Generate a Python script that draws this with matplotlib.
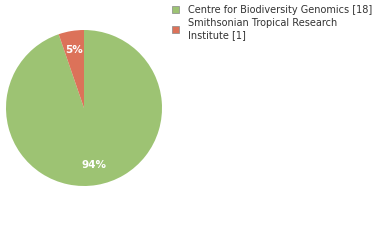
import numpy as np
import matplotlib
matplotlib.use('Agg')
import matplotlib.pyplot as plt
from matplotlib.patches import Patch

labels = ['Centre for Biodiversity Genomics [18]', 'Smithsonian Tropical Research\nInstitute [1]']
counts = [18, 1]
pct_labels = ['94%', '5%']
colors = ['#9dc373', '#dc7259']

fig = plt.figure(figsize=(3.8, 2.4), dpi=100)
ax = fig.add_axes([6 / 380, 54 / 240, 156 / 380, 156 / 240])

wedges, _ = ax.pie(counts, colors=colors, startangle=90, counterclock=False,
                   wedgeprops=dict(linewidth=0))
dists = [0.74, 0.76]
for w, txt, d in zip(wedges, pct_labels, dists):
    ang = np.deg2rad((w.theta1 + w.theta2) / 2)
    ax.text(d * np.cos(ang), d * np.sin(ang), txt, ha='center', va='center',
            color='white', fontsize=7.5, fontweight='semibold')
ax.set_xlim(-1, 1)
ax.set_ylim(-1, 1)
ax.set_aspect('equal')

handles = [Patch(facecolor=c, edgecolor='#888888', linewidth=0.5) for c in colors]
fig.legend(handles, labels, loc='upper left', bbox_to_anchor=(166 / 380, 1.005),
           frameon=False, fontsize=7, handlelength=0.75, handleheight=0.75,
           handletextpad=0.9, labelspacing=0.35, borderaxespad=0.2,
           labelcolor='#333333')

fig.savefig('out.png', dpi=100)
